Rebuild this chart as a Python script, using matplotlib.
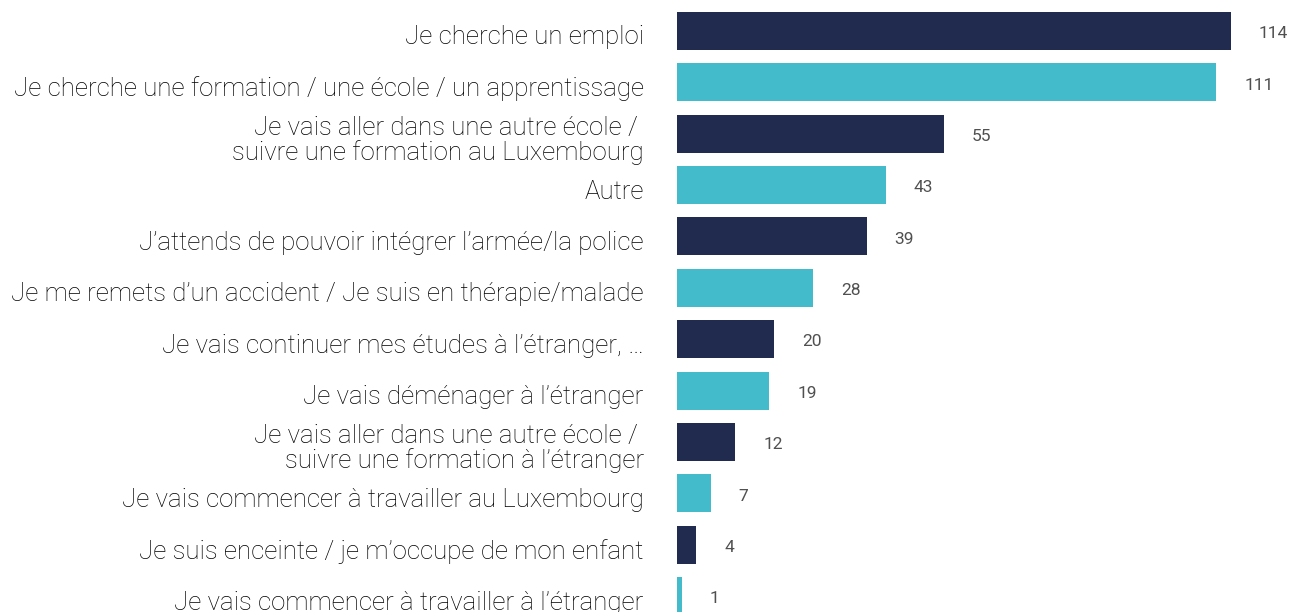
import matplotlib
matplotlib.use("Agg")
import matplotlib.pyplot as plt
from matplotlib.transforms import ScaledTranslation

categories = [
    "Je cherche un emploi",
    "Je cherche une formation / une école / un apprentissage",
    "Je vais aller dans une autre école / \nsuivre une formation au Luxembourg",
    "Autre",
    "J’attends de pouvoir intégrer l’armée/la police",
    "Je me remets d’un accident / Je suis en thérapie/malade",
    "Je vais continuer mes études à l’étranger, …",
    "Je vais déménager à l’étranger",
    "Je vais aller dans une autre école / \nsuivre une formation à l’étranger",
    "Je vais commencer à travailler au Luxembourg",
    "Je suis enceinte / je m’occupe de mon enfant",
    "Je vais commencer à travailler à l’étranger",
]
values = [114, 111, 55, 43, 39, 28, 20, 19, 12, 7, 4, 1]

DARK = "#202b4f"
CYAN = "#43bbcb"
colors = [DARK if i % 2 == 0 else CYAN for i in range(len(values))]

plt.rcParams['font.family'] = ['Roboto', 'DejaVu Sans']

fig = plt.figure(figsize=(12.89, 6.12), dpi=100)
ax = fig.add_axes([677 / 1289, 0, 1 - 677 / 1289, 1])

ypos = list(range(len(values)))
ax.barh(ypos, values, height=0.74, color=colors)
ax.set_xlim(0, 612 / 4.86)
ax.set_ylim(11 + 16 / 51.4, -31 / 51.4)

for y, v in zip(ypos, values):
    ax.annotate(str(v), xy=(v, y), xytext=(20, -2), textcoords="offset points",
                ha="left", va="center", fontsize=12.5, color="#505050",
                fontweight="normal")

ax.set_yticks(ypos)
ax.set_yticklabels(categories, fontsize=18.6, fontweight="light", color="#000000",
                   multialignment="right", linespacing=1.0)
ax.tick_params(axis="y", length=0, pad=24)
off = ScaledTranslation(0, -4 / 100, fig.dpi_scale_trans)
for lab in ax.get_yticklabels():
    lab.set_transform(lab.get_transform() + off)

ax.set_xticks([])
for s in ax.spines.values():
    s.set_visible(False)

fig.savefig("out.png", dpi=100)
